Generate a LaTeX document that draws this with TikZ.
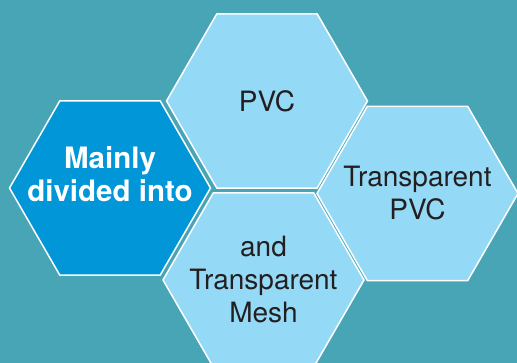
\documentclass[tikz,border=0pt]{standalone}
\usepackage{fontspec}
\setmainfont{TeX Gyre Heros}
\usetikzlibrary{shapes.geometric,calc}
\definecolor{bgteal}{RGB}{72,165,181}
\definecolor{hexdark}{RGB}{0,150,216}
\definecolor{hexlight}{RGB}{148,217,246}
\definecolor{txtdark}{RGB}{35,31,32}

\begin{document}
\begin{tikzpicture}[x=1pt,y=-1pt,
    hexa/.style={regular polygon, regular polygon sides=6, minimum size=201pt,
      inner sep=0pt, outer sep=0pt, draw=white, line width=1.5pt, fill=hexlight},
    lbl/.style={align=center, font=\fontsize{28}{33}\selectfont, text=txtdark},
    boldlbl/.style={align=center, font=\fontsize{29.5}{33}\selectfont\bfseries, text=white}]
  \fill[bgteal] (0,0) rectangle (517,363);
  \useasboundingbox (0,0) rectangle (517,363);

  \node[hexa, fill=hexdark,
    label={[boldlbl, yshift=14pt]center:{Mainly\\divided into}}] (main) at (110,188) {};
  \node[hexa, label={[lbl]center:PVC}] (pvc) at ($(main)+(157,-87)$) {};
  \node[hexa, label={[lbl]center:{and\\Transparent\\Mesh}}] (mesh) at ($(main)+(153.5,92)$) {};
  \node[hexa, label={[lbl]center:{Transparent\\PVC}}] (tpvc) at ($(pvc)+(150.5,92.5)$) {};
\end{tikzpicture}
\end{document}
